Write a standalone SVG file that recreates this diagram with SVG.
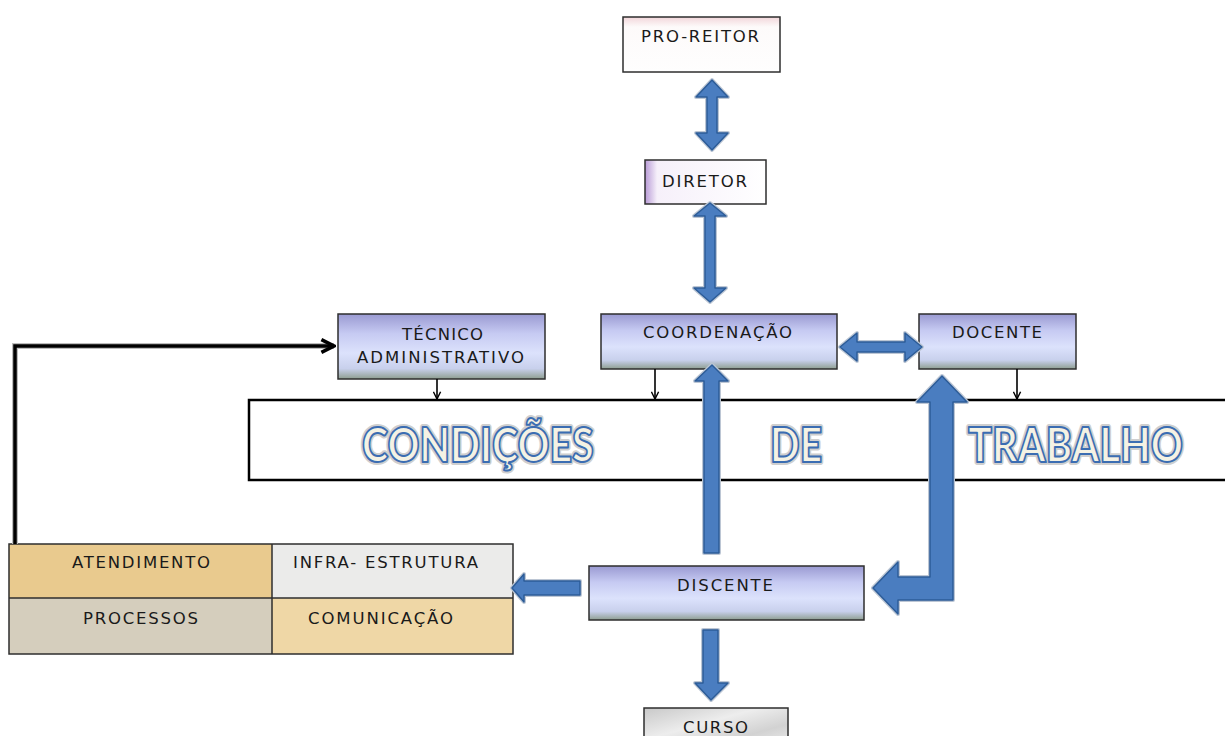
<svg xmlns="http://www.w3.org/2000/svg" width="1225" height="736" viewBox="0 0 1225 736">
  <defs>
    <linearGradient id="blueFill" x1="0" y1="0" x2="0" y2="1">
      <stop offset="0" stop-color="#9a9ad2"/>
      <stop offset="0.3" stop-color="#c6caf2"/>
      <stop offset="0.6" stop-color="#dce2fc"/>
      <stop offset="0.84" stop-color="#c8d0ec"/>
      <stop offset="1" stop-color="#8e9e90"/>
    </linearGradient>
    <linearGradient id="pinkTop" x1="0" y1="0" x2="0" y2="1">
      <stop offset="0" stop-color="#f2d6da"/>
      <stop offset="0.18" stop-color="#fdfafa"/>
      <stop offset="1" stop-color="#fefefe"/>
    </linearGradient>
    <linearGradient id="purpleLeft" x1="0" y1="0" x2="1" y2="0">
      <stop offset="0" stop-color="#b89ad6"/>
      <stop offset="0.1" stop-color="#f6f0fa"/>
      <stop offset="1" stop-color="#ffffff"/>
    </linearGradient>
    <linearGradient id="marble" x1="0" y1="0" x2="1" y2="1">
      <stop offset="0" stop-color="#c8c8c8"/>
      <stop offset="0.4" stop-color="#ededed"/>
      <stop offset="0.7" stop-color="#d2d2d2"/>
      <stop offset="1" stop-color="#eeeeee"/>
    </linearGradient>
    <marker id="vHead" viewBox="0 0 10 10" refX="9" refY="5" markerWidth="9" markerHeight="9" markerUnits="userSpaceOnUse" orient="auto">
      <path d="M1,1 L9,5 L1,9" fill="none" stroke="#000" stroke-width="1.6"/>
    </marker>
    <marker id="bigHead" viewBox="0 0 10 10" refX="9" refY="5" markerWidth="18" markerHeight="18" markerUnits="userSpaceOnUse" orient="auto">
      <path d="M2,1.5 L9,5 L2,8.5" fill="none" stroke="#000" stroke-width="2"/>
    </marker>
  </defs>
  <style>
    .box { stroke: #2e2e2e; stroke-width: 1.5; }
    .lbl { font-family: "DejaVu Sans", Verdana, sans-serif; font-size: 16.5px; fill: #1a1a1a; text-anchor: start; }
    .big { font-family: Lato, "Open Sans", sans-serif; font-weight: 900; font-size: 48px; }
    .glow { fill: none; stroke: #cfcfcf; stroke-width: 6; stroke-linejoin: round; }
    .rim { fill: #f4f2e4; stroke: #3b6db2; stroke-width: 2; stroke-linejoin: round; }
    .halo { fill: none; stroke: #bcc6d4; stroke-width: 4; stroke-linejoin: round; }
    .blue { fill: #4a7dc0; stroke: #2c5c98; stroke-width: 1.5; stroke-linejoin: round; }
    .thin { fill: none; stroke: #000; stroke-width: 1.6; }
  </style>

  <rect width="1225" height="736" fill="#ffffff"/>

  <!-- working-conditions band: open on the right, running off the page -->
  <g id="condicoes">
    <path d="M1225,400 H249 V480 H1225" fill="#ffffff" stroke="#000" stroke-width="2.5"/>
    <!-- headline words, set condensed -->
    <g class="big">
      <g transform="translate(362,462) scale(0.84,1)">
        <text class="glow" x="0" y="0" textLength="276" lengthAdjust="spacingAndGlyphs">CONDIÇÕES</text>
        <text class="rim" x="0" y="0" textLength="276" lengthAdjust="spacingAndGlyphs">CONDIÇÕES</text>
      </g>
      <g transform="translate(770,462) scale(0.84,1)">
        <text class="glow" x="0" y="0" textLength="62" lengthAdjust="spacingAndGlyphs">DE</text>
        <text class="rim" x="0" y="0" textLength="62" lengthAdjust="spacingAndGlyphs">DE</text>
      </g>
      <g transform="translate(968,462) scale(0.84,1)">
        <text class="glow" x="0" y="0" textLength="256" lengthAdjust="spacingAndGlyphs">TRABALHO</text>
        <text class="rim" x="0" y="0" textLength="256" lengthAdjust="spacingAndGlyphs">TRABALHO</text>
      </g>
    </g>
  </g>

  <g id="pro-reitor">
    <rect class="box" x="623" y="17" width="157" height="55" fill="url(#pinkTop)"/>
    <text class="lbl" x="641" y="42" textLength="118" lengthAdjust="spacing">PRO-REITOR</text>
  </g>

  <g id="diretor">
    <rect class="box" x="645" y="160" width="121" height="44" fill="url(#purpleLeft)"/>
    <text class="lbl" x="662" y="187" textLength="85" lengthAdjust="spacing">DIRETOR</text>
  </g>

  <g id="tecnico">
    <rect class="box" x="338" y="314" width="207" height="65" fill="url(#blueFill)"/>
    <text class="lbl" x="402" y="340" textLength="81" lengthAdjust="spacing">TÉCNICO</text>
    <text class="lbl" x="357" y="363" textLength="167" lengthAdjust="spacing">ADMINISTRATIVO</text>
  </g>

  <g id="coordenacao">
    <rect class="box" x="601" y="314" width="236" height="55" fill="url(#blueFill)"/>
    <text class="lbl" x="643" y="338" textLength="149" lengthAdjust="spacing">COORDENAÇÃO</text>
  </g>

  <g id="docente">
    <rect class="box" x="919" y="314" width="157" height="55" fill="url(#blueFill)"/>
    <text class="lbl" x="952" y="338" textLength="90" lengthAdjust="spacing">DOCENTE</text>
  </g>

  <g id="discente">
    <rect class="box" x="589" y="566" width="275" height="54" fill="url(#blueFill)"/>
    <text class="lbl" x="677" y="591" textLength="96" lengthAdjust="spacing">DISCENTE</text>
  </g>

  <g id="curso">
    <rect class="box" x="644" y="708" width="144" height="40" fill="url(#marble)"/>
    <text class="lbl" x="683" y="733" textLength="65" lengthAdjust="spacing">CURSO</text>
  </g>

  <!-- 2x2 table of dimensions -->
  <g id="tabela">
    <rect x="9" y="544" width="263" height="54" fill="#e9ca8e"/>
    <rect x="272" y="544" width="241" height="54" fill="#ebebea"/>
    <rect x="9" y="598" width="263" height="56" fill="#d5cebd"/>
    <rect x="272" y="598" width="241" height="56" fill="#efd7a6"/>
    <rect class="box" x="9" y="544" width="504" height="110" fill="none"/>
    <line class="box" x1="272" y1="544" x2="272" y2="654"/>
    <line class="box" x1="9" y1="598" x2="513" y2="598"/>
    <text class="lbl" x="72" y="568" textLength="138" lengthAdjust="spacing">ATENDIMENTO</text>
    <text class="lbl" x="293" y="568" textLength="185" lengthAdjust="spacing">INFRA- ESTRUTURA</text>
    <text class="lbl" x="83" y="624" textLength="115" lengthAdjust="spacing">PROCESSOS</text>
    <text class="lbl" x="308" y="624" textLength="145" lengthAdjust="spacing">COMUNICAÇÃO</text>
  </g>

  <g id="connectors">
    <!-- thin arrows into the working-conditions band -->
    <line class="thin" x1="437" y1="379" x2="437" y2="399" marker-end="url(#vHead)"/>
    <line class="thin" x1="655" y1="369" x2="655" y2="399" marker-end="url(#vHead)"/>
    <line class="thin" x1="1017" y1="369" x2="1017" y2="399" marker-end="url(#vHead)"/>

    <!-- feedback line from the table back to TÉCNICO ADMINISTRATIVO -->
    <polyline points="15,544 15,346 334,346" fill="none" stroke="#bdbdbd" stroke-width="6"/>
    <polyline points="15,544 15,346 334,346" fill="none" stroke="#000" stroke-width="3.5" marker-end="url(#bigHead)"/>

    <!-- block arrows -->
    <g id="arrow-pro-dir">
      <path class="halo" d="M712,80 L728,97 L717,97 L717,133 L728,133 L712,150 L696,133 L707,133 L707,97 L696,97 Z"/>
      <path class="blue" d="M712,80 L728,97 L717,97 L717,133 L728,133 L712,150 L696,133 L707,133 L707,97 L696,97 Z"/>
    </g>
    <g id="arrow-dir-coord">
      <path class="halo" d="M710,203 L726,216 L715,216 L715,288 L726,288 L710,302 L694,288 L705,288 L705,216 L694,216 Z"/>
      <path class="blue" d="M710,203 L726,216 L715,216 L715,288 L726,288 L710,302 L694,288 L705,288 L705,216 L694,216 Z"/>
    </g>
    <g id="arrow-coord-doc">
      <path class="halo" d="M840,347 L857,333 L857,342 L905,342 L905,333 L922,347 L905,361 L905,352 L857,352 L857,361 Z"/>
      <path class="blue" d="M840,347 L857,333 L857,342 L905,342 L905,333 L922,347 L905,361 L905,352 L857,352 L857,361 Z"/>
    </g>
    <g id="arrow-disc-coord">
      <path class="halo" d="M712,365 L728,381 L719,381 L719,553 L704,553 L704,381 L695,381 Z"/>
      <path class="blue" d="M712,365 L728,381 L719,381 L719,553 L704,553 L704,381 L695,381 Z"/>
    </g>
    <g id="arrow-doc-disc">
      <path class="halo" d="M942,376 L967,402 L953,402 L953,600 L898,600 L898,614 L873,588 L898,562 L898,577 L930,577 L930,402 L917,402 Z"/>
      <path class="blue" d="M942,376 L967,402 L953,402 L953,600 L898,600 L898,614 L873,588 L898,562 L898,577 L930,577 L930,402 L917,402 Z"/>
    </g>
    <g id="arrow-disc-tabela">
      <path class="halo" d="M512,588 L524,574 L524,581 L580,581 L580,595 L524,595 L524,602 Z"/>
      <path class="blue" d="M512,588 L524,574 L524,581 L580,581 L580,595 L524,595 L524,602 Z"/>
    </g>
    <g id="arrow-disc-curso">
      <path class="halo" d="M703,630 L718,630 L718,683 L728,683 L711,700 L695,683 L703,683 Z"/>
      <path class="blue" d="M703,630 L718,630 L718,683 L728,683 L711,700 L695,683 L703,683 Z"/>
    </g>
  </g>
</svg>
